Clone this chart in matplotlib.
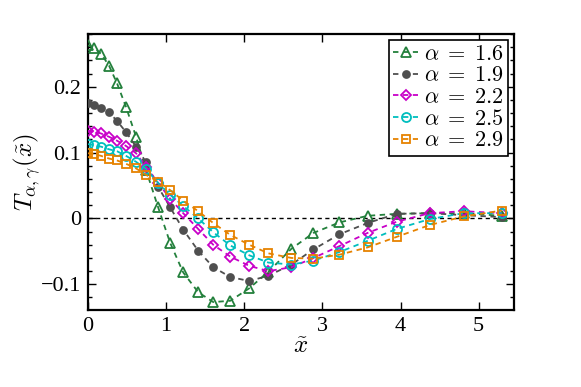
import matplotlib
matplotlib.use("Agg")
import matplotlib.pyplot as plt
from matplotlib.ticker import MultipleLocator, FixedLocator

plt.rcParams['mathtext.fontset'] = 'cm'
plt.rcParams['font.family'] = ['Liberation Serif', 'DejaVu Serif']

x = [0.0, 0.077, 0.167, 0.269, 0.372, 0.487, 0.615, 0.744, 0.897, 1.051, 1.218, 1.41,
     1.603, 1.821, 2.064, 2.308, 2.603, 2.885, 3.218, 3.577, 3.949, 4.372, 4.808, 5.295]

y_16 = [0.263, 0.259, 0.250, 0.232, 0.205, 0.169, 0.124, 0.073, 0.017, -0.037, -0.082, -0.112,
        -0.127, -0.125, -0.106, -0.081, -0.046, -0.022, -0.006, 0.004, 0.007, 0.008, 0.008, 0.004]
y_19 = [0.175, 0.173, 0.168, 0.161, 0.148, 0.131, 0.109, 0.085, 0.048, 0.017, -0.017, -0.049,
        -0.074, -0.089, -0.095, -0.087, -0.070, -0.047, -0.024, -0.007, 0.007, 0.008, 0.005, 0.002]
y_22 = [0.133, 0.132, 0.129, 0.124, 0.118, 0.110, 0.099, 0.078, 0.054, 0.030, 0.008, -0.016,
        -0.040, -0.058, -0.072, -0.080, -0.074, -0.060, -0.042, -0.022, -0.005, 0.008, 0.011, 0.008]
y_25 = [0.113, 0.111, 0.109, 0.105, 0.102, 0.095, 0.086, 0.075, 0.054, 0.036, 0.019, 0.000,
        -0.021, -0.041, -0.056, -0.067, -0.070, -0.064, -0.051, -0.034, -0.016, -0.001, 0.008, 0.008]
y_29 = [0.099, 0.098, 0.095, 0.091, 0.088, 0.083, 0.076, 0.066, 0.056, 0.043, 0.027, 0.011,
        -0.007, -0.025, -0.040, -0.053, -0.060, -0.061, -0.055, -0.044, -0.028, -0.010, 0.003, 0.012]

labels = [r'$\alpha\;=\;1.6$', r'$\alpha\;=\;1.9$', r'$\alpha\;=\;2.2$', r'$\alpha\;=\;2.5$', r'$\alpha\;=\;2.9$']
series = [y_16, y_19, y_22, y_25, y_29]
colors = ['#23803c', '#4f4f4f', '#c800c8', '#00bebe', '#e68200']
markers = ['^', 'o', 'D', 'o', 's']
msizes = [7, 5, 5.5, 6.5, 6]
fills = ['none', '#4f4f4f', 'none', 'none', 'none']

xticks = [0, 1, 2, 3, 4, 5]
yticks = [-0.1, 0, 0.1, 0.2]
yticklabels = ['\u22120.1', '0', '0.1', '0.2']

fig = plt.figure(figsize=(5.81, 3.87), dpi=100)
ax = fig.add_axes([0.1515, 0.199, 0.733, 0.713])

ax.axhline(0, color='black', linestyle='--', linewidth=1.0, dashes=(3, 2.5), zorder=1)

for ys, lab, c, m, ms, fc in zip(series, labels, colors, markers, msizes, fills):
    ax.plot(x, ys, linestyle='--', dashes=(3, 2.5), color=c, linewidth=1.3,
            marker=m, markersize=ms, markerfacecolor=fc, markeredgecolor=c,
            markeredgewidth=1.3, label=lab, zorder=3)

ax.set_xlim(0, 5.45)
ax.set_ylim(-0.139, 0.28)
ax.xaxis.set_major_locator(FixedLocator(xticks))
ax.set_xticklabels([str(t) for t in xticks])
ax.yaxis.set_major_locator(FixedLocator(yticks))
ax.set_yticklabels(yticklabels)
ax.yaxis.set_minor_locator(MultipleLocator(0.02))

ax.tick_params(which='both', direction='in', top=True, right=True, labelsize=16, width=1.0)
ax.tick_params(which='major', length=6, pad=5)
ax.tick_params(which='minor', length=3)
for s in ax.spines.values():
    s.set_linewidth(1.6)

ax.set_xlabel(r'$\tilde{x}$', fontsize=18, labelpad=0)
ax.set_ylabel(r'$T_{\alpha,\gamma}(\tilde{x})$', fontsize=18, labelpad=-1)

leg = ax.legend(loc='upper right', fontsize=16, handlelength=1.1, handletextpad=0.3,
                borderpad=0.2, labelspacing=0.05, borderaxespad=0.25, fancybox=False,
                framealpha=1, edgecolor='black')
leg.get_frame().set_linewidth(1.2)

fig.savefig('out.png', dpi=100)
